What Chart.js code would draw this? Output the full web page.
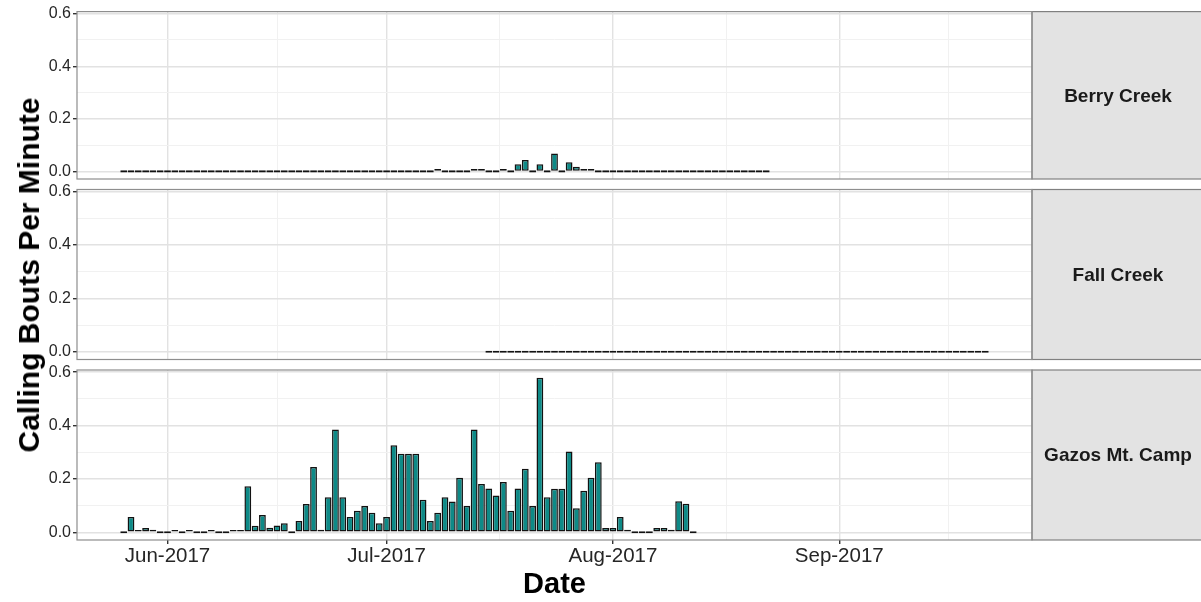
<!DOCTYPE html>
<html>
<head>
<meta charset="utf-8">
<title>Calling Bouts Per Minute</title>
<script src="https://cdn.jsdelivr.net/npm/chart.js@4.4.1/dist/chart.umd.min.js"></script>
<style>
  html, body { margin: 0; padding: 0; background: #fff; }
  #stage { position: relative; width: 1201px; height: 602px; overflow: hidden; background: #fff; }
  #stage canvas { position: absolute; left: 0; top: 0; }
  #ytitle {
    position: absolute; left: 29px; top: 275px;
    transform: translate(-50%, -50%) rotate(-90deg);
    font: bold 30px "Liberation Sans", Arial, sans-serif;
    color: #000; white-space: nowrap;
  }
</style>
</head>
<body>
<div id="stage">
  <canvas id="panel0" width="1201" height="602"></canvas>
  <canvas id="panel1" width="1201" height="602"></canvas>
  <canvas id="panel2" width="1201" height="602"></canvas>
  <div id="ytitle">Calling Bouts Per Minute</div>
</div>
<script>
// ---- data: one bar per recording day, consecutive days from each start date ----
const sites = ['Berry Creek', 'Fall Creek', 'Gazos Mt. Camp'];

const berryStart = '2017-05-26';
const berryValues = [
  // May 26-31
  0, 0, 0, 0, 0, 0,
  // Jun 1-30
  0, 0, 0, 0, 0, 0, 0, 0, 0, 0, 0, 0, 0, 0, 0,
  0, 0, 0, 0, 0, 0, 0, 0, 0, 0, 0, 0, 0, 0, 0,
  // Jul 1-31
  0, 0, 0, 0, 0, 0, 0, 0.009, 0, 0, 0, 0, 0.009, 0.009, 0, 0,
  0.009, 0, 0.027, 0.043, 0, 0.027, 0, 0.068, 0, 0.035, 0.018, 0.009, 0.009, 0, 0,
  // Aug 1-22
  0, 0, 0, 0, 0, 0, 0, 0, 0, 0, 0, 0, 0, 0, 0, 0, 0, 0, 0, 0, 0, 0
];

const fallStart = '2017-07-15';
const fallValues = [
  // Jul 15-31
  0, 0, 0, 0, 0, 0, 0, 0, 0, 0, 0, 0, 0, 0, 0, 0, 0,
  // Aug 1-31
  0, 0, 0, 0, 0, 0, 0, 0, 0, 0, 0, 0, 0, 0, 0, 0,
  0, 0, 0, 0, 0, 0, 0, 0, 0, 0, 0, 0, 0, 0, 0,
  // Sep 1-21
  0, 0, 0, 0, 0, 0, 0, 0, 0, 0, 0, 0, 0, 0, 0, 0, 0, 0, 0, 0, 0
];

const gazosStart = '2017-05-26';
const gazosValues = [
  // May 26-31
  0, 0.057, 0.007, 0.016, 0.009, 0,
  // Jun 1-30
  0, 0.008, 0, 0.008, 0, 0, 0.008, 0, 0, 0.007, 0.007, 0.172, 0.024, 0.065, 0.017,
  0.025, 0.034, 0, 0.042, 0.106, 0.245, 0.009, 0.131, 0.385, 0.131, 0.057, 0.081, 0.098, 0.073, 0.034,
  // Jul 1-31
  0.057, 0.326, 0.294, 0.294, 0.294, 0.122, 0.042, 0.073, 0.131, 0.115, 0.204, 0.098, 0.385, 0.181, 0.164, 0.138,
  0.188, 0.081, 0.164, 0.238, 0.098, 0.579, 0.131, 0.163, 0.163, 0.303, 0.090, 0.156, 0.204, 0.262, 0.016,
  // Aug 1-12
  0.016, 0.057, 0.009, 0, 0, 0, 0.016, 0.016, 0.009, 0.116, 0.107, 0
];

const xTickDates  = ['2017-06-01', '2017-07-01', '2017-08-01', '2017-09-01'];
const xTickLabels = ['Jun-2017', 'Jul-2017', 'Aug-2017', 'Sep-2017'];
const xNextBreak  = '2017-10-01';
const yTickValues = [0, 0.2, 0.4, 0.6];
const yTickLabels = ['0.0', '0.2', '0.4', '0.6'];

// ---- helpers ----
const DAY_MS = 86400000;
const ORIGIN = Date.UTC(2017, 5, 1);
function dayNumber(iso) {
  const [y, m, d] = iso.split('-').map(Number);
  return (Date.UTC(y, m - 1, d) - ORIGIN) / DAY_MS;
}
function toPoints(startIso, values) {
  const s = dayNumber(startIso);
  return values.map((v, i) => ({ x: s + i, y: v }));
}

const series = [
  toPoints(berryStart, berryValues),
  toPoints(fallStart, fallValues),
  toPoints(gazosStart, gazosValues)
];

// shared x range: data extent (half-bar each side) plus 5% expansion
const allX = series.flat().map(p => p.x);
const xLo = Math.min(...allX) - 0.45, xHi = Math.max(...allX) + 0.45;
const X_MIN = xLo - (xHi - xLo) * 0.05, X_MAX = xHi + (xHi - xLo) * 0.05;

// shared y range: 0..max plus 5% expansion
const yHi = Math.max(...series.flat().map(p => p.y));
const Y_MIN = -yHi * 0.05, Y_MAX = yHi * 1.05;

// major and minor grid positions
const xMajor = xTickDates.map(dayNumber);
const xBreaksExt = xMajor.concat([dayNumber(xNextBreak)]);
const xMinor = [];
for (let i = 0; i < xBreaksExt.length - 1; i++) xMinor.push((xBreaksExt[i] + xBreaksExt[i + 1]) / 2);
const xGrid = xMajor.concat(xMinor).filter(v => v >= X_MIN && v <= X_MAX).sort((a, b) => a - b);

const yMinor = [];
for (let i = 0; i < yTickValues.length - 1; i++) yMinor.push((yTickValues[i] + yTickValues[i + 1]) / 2);
const yGrid = yTickValues.concat(yMinor).sort((a, b) => a - b);

const near = (a, b) => Math.abs(a - b) < 1e-6;
const isMajorX = v => xMajor.some(m => near(m, v));
const isMajorY = v => yTickValues.some(m => near(m, v));

// ---- layout ----
const W = 1201, H = 602;
const PLOT_LEFT = 77, PLOT_RIGHT = 1032;
const panelBoxes = [[9, 179], [189.5, 359.5], [370, 540]];
const FONT = '"Liberation Sans", Arial, Helvetica, sans-serif';

const GRID_MAJOR = '#e2e2e2', GRID_MINOR = '#f1f1f1';

const facetStrip = {
  id: 'facetStrip',
  afterDraw(chart, args, opts) {
    const { ctx, chartArea: a } = chart;
    ctx.save();
    // strip box
    ctx.fillStyle = '#e3e3e3';
    ctx.fillRect(a.right, a.top, W - a.right + 6, a.bottom - a.top);
    ctx.strokeStyle = '#808080';
    ctx.lineWidth = 1.2;
    ctx.strokeRect(a.right, a.top, W - a.right + 6, a.bottom - a.top);
    // panel border
    ctx.strokeStyle = '#8e8e8e';
    ctx.strokeRect(a.left, a.top, a.right - a.left, a.bottom - a.top);
    // strip label
    ctx.fillStyle = '#1a1a1a';
    ctx.font = 'bold 19px ' + FONT;
    ctx.textAlign = 'center';
    ctx.textBaseline = 'middle';
    ctx.fillText(opts.label, 1118, (a.top + a.bottom) / 2 + 1);
    ctx.restore();
  }
};

function makePanel(idx) {
  const isBottom = idx === 2;
  const [top, bottom] = panelBoxes[idx];
  const xAxisH = isBottom ? H - bottom : 0;
  return new Chart(document.getElementById('panel' + idx), {
    type: 'bar',
    data: {
      datasets: [{
        data: series[idx],
        backgroundColor: '#0e8a87',
        borderColor: '#121212',
        borderWidth: 1.5,
        borderSkipped: false,
        barPercentage: 0.93,
        categoryPercentage: 1,
        minBarLength: 2.2
      }]
    },
    plugins: [facetStrip],
    options: {
      responsive: false,
      animation: false,
      events: [],
      layout: {
        padding: { top: top, left: 0, right: W - PLOT_RIGHT, bottom: H - bottom - xAxisH }
      },
      plugins: {
        legend: { display: false },
        tooltip: { enabled: false },
        facetStrip: { label: sites[idx] }
      },
      scales: {
        x: {
          type: 'linear',
          min: X_MIN, max: X_MAX,
          offset: false,
          afterBuildTicks: s => { s.ticks = xGrid.map(v => ({ value: v })); },
          afterFit: s => { s.height = xAxisH; },
          border: { display: false },
          grid: {
            offset: false,
            color: c => isMajorX(c.tick.value) ? GRID_MAJOR : GRID_MINOR,
            lineWidth: c => isMajorX(c.tick.value) ? 1.4 : 1,
            drawTicks: isBottom,
            tickLength: 4,
            tickColor: c => isMajorX(c.tick.value) ? '#333333' : 'rgba(0,0,0,0)'
          },
          ticks: {
            display: isBottom,
            autoSkip: false,
            maxRotation: 0,
            padding: 0,
            color: '#262626',
            font: { family: FONT, size: 20.5 },
            callback: v => {
              const i = xMajor.findIndex(m => near(m, v));
              return i >= 0 ? xTickLabels[i] : '';
            }
          },
          title: {
            display: isBottom,
            text: 'Date',
            color: '#000',
            font: { family: FONT, size: 29, weight: 'bold' },
            padding: { top: 0, bottom: 0 }
          }
        },
        y: {
          type: 'linear',
          min: Y_MIN, max: Y_MAX,
          afterBuildTicks: s => { s.ticks = yGrid.map(v => ({ value: v })); },
          afterFit: s => { s.width = PLOT_LEFT; },
          border: { display: false },
          grid: {
            color: c => isMajorY(c.tick.value) ? GRID_MAJOR : GRID_MINOR,
            lineWidth: c => isMajorY(c.tick.value) ? 1.4 : 1,
            drawTicks: true,
            tickLength: 4,
            tickColor: c => isMajorY(c.tick.value) ? '#333333' : 'rgba(0,0,0,0)'
          },
          ticks: {
            autoSkip: false,
            padding: 2,
            color: '#262626',
            font: { family: FONT, size: 16 },
            callback: v => {
              const i = yTickValues.findIndex(m => near(m, v));
              return i >= 0 ? yTickLabels[i] : '';
            }
          }
        }
      }
    }
  });
}

[0, 1, 2].forEach(makePanel);
</script>
</body>
</html>
